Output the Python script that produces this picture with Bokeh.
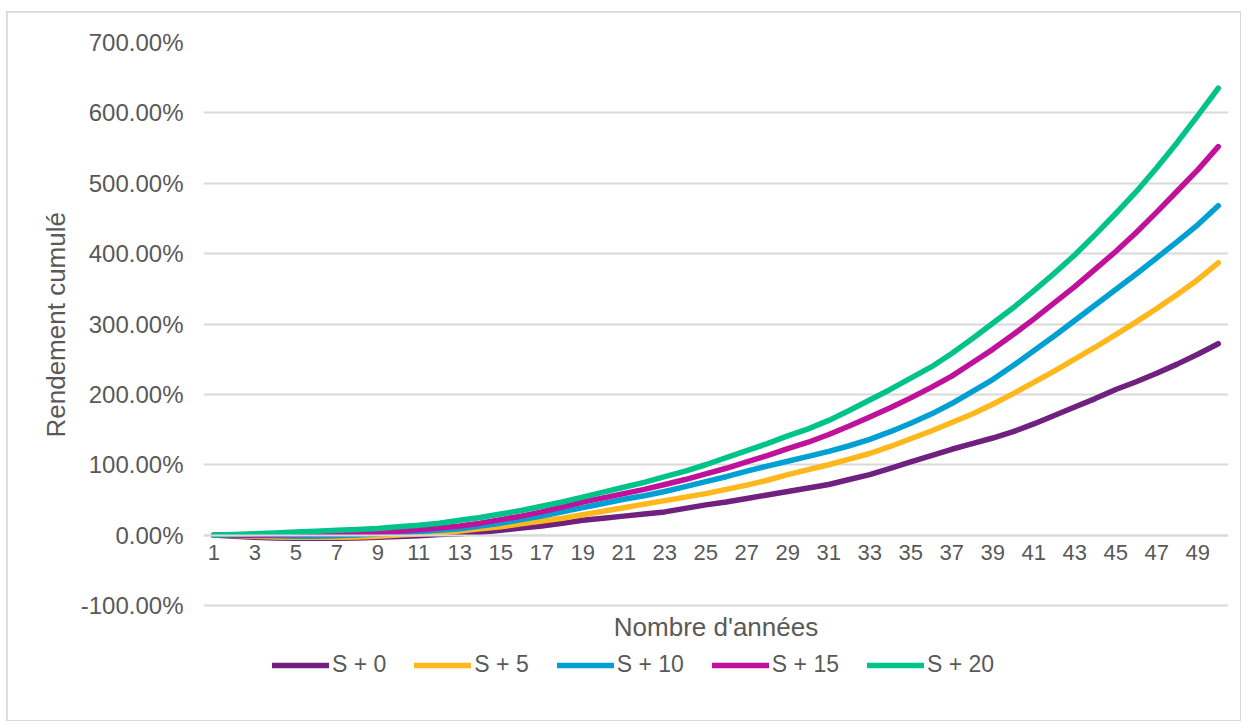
from bokeh.plotting import figure
from bokeh.models import Legend, LegendItem, FixedTicker, PrintfTickFormatter, Title, Label
from bokeh.embed import file_html
from bokeh.resources import INLINE

years = list(range(1, 51))
tick_years = list(range(1, 50, 2))
y_ticks = [-100, 0, 100, 200, 300, 400, 500, 600, 700]

s_plus_0 = [0, -1.5, -3, -4, -4.5, -4.5, -4.5, -4, -3, -2,
            -1, 1, 2, 4, 7, 10, 13, 17, 21, 24,
            27, 30, 33, 38, 43, 47, 52, 57, 62, 67,
            72, 79, 86, 95, 104, 113, 122, 130, 138, 147,
            158, 170, 182, 194, 207, 218, 230, 243, 257, 272]
s_plus_5 = [0, -0.5, -1.5, -2.5, -3, -3, -3, -2.5, -1.5, 0,
            1.5, 3.5, 6, 9, 12, 16, 20, 24, 29, 34,
            39, 44, 49, 54, 59, 65, 71, 78, 86, 93,
            100, 108, 116, 126, 137, 148, 160, 172, 186, 201,
            217, 233, 250, 267, 285, 303, 322, 342, 363, 387]
s_plus_10 = [0, 0, -0.5, -1, -1.5, -1.5, -1, 0, 1.5, 3,
             5, 7, 9, 13, 17, 22, 27, 33, 39, 45,
             51, 56, 62, 69, 76, 83, 91, 98, 105, 112,
             119, 127, 136, 147, 159, 172, 187, 204, 221, 241,
             262, 283, 305, 327, 349, 371, 394, 417, 441, 468]
s_plus_15 = [0, 0, 0, 0.5, 1, 1.5, 2, 3, 4, 5.5,
             7.5, 10, 13, 17, 22, 27, 33, 40, 47, 53,
             59, 65, 72, 79, 87, 95, 104, 113, 123, 132,
             143, 155, 168, 181, 195, 210, 226, 245, 264, 285,
             307, 330, 353, 378, 403, 430, 459, 489, 519, 552]
s_plus_20 = [0, 1, 2, 3, 4.5, 5.5, 7, 8, 9.5, 12,
             14, 17, 21, 25, 30, 35, 41, 47, 54, 61,
             68, 75, 83, 91, 100, 110, 120, 130, 141, 151,
             163, 177, 192, 207, 223, 239, 258, 279, 301, 323,
             347, 372, 398, 427, 457, 488, 522, 558, 596, 635]

series_names = ["S + 0", "S + 5", "S + 10", "S + 15", "S + 20"]
series_values = [s_plus_0, s_plus_5, s_plus_10, s_plus_15, s_plus_20]
series_colors = ["#70207E", "#FFB81C", "#00A0D2", "#C0119B", "#00C389"]

FONT = "Liberation Sans"
TXT = "#595959"
GRID = "#d9d9d9"

# layout (pixels, figure coordinates)
W, H = 1233, 708
BORDER_L, BORDER_R, BORDER_T, BORDER_B = 196, 12, 30, 2
GRID_SPAN_PX = 563.0          # height from the -100% line to the 700% line
Y_TOP, Y_GRID_BOTTOM = 700, -100
px_per_unit = GRID_SPAN_PX / (Y_TOP - Y_GRID_BOTTOM)
frame_h = H - BORDER_T - BORDER_B
y_start = Y_TOP - frame_h / px_per_unit   # frame extends below the -100% line

p = figure(width=W, height=H, x_range=(0.5, 50.5), y_range=(y_start, Y_TOP),
           output_backend="svg", toolbar_location=None,
           min_border_left=BORDER_L, min_border_right=BORDER_R,
           min_border_top=BORDER_T, min_border_bottom=BORDER_B)
p.outline_line_color = None
p.background_fill_color = "white"
p.border_fill_color = "white"
p.styles = {"margin-left": "7px", "margin-top": "12px",
            "outline": "2px solid #d9d9d9", "outline-offset": "-1px"}

renderers = []
for vals, col in zip(series_values, series_colors):
    r = p.line(years, vals, line_color=col, line_width=5.5,
               line_cap="round", line_join="round")
    renderers.append(r)

# category axis crossing at 0
xa = p.xaxis[0]
xa.fixed_location = 0
xa.ticker = FixedTicker(ticks=tick_years)
xa.axis_line_color = GRID
xa.axis_line_width = 2
xa.major_tick_line_color = None
xa.minor_tick_line_color = None
xa.major_tick_out = 0
xa.major_label_standoff = 10
xa.major_label_text_font = FONT
xa.major_label_text_font_size = "22px"
xa.major_label_text_color = TXT

# x axis title, below the -100% line
p.add_layout(Label(x=25.5, y=-(92 / px_per_unit), text="Nombre d'années",
                   text_align="center", text_baseline="middle",
                   text_font=FONT, text_font_size="26px", text_color=TXT))

ya = p.yaxis[0]
ya.ticker = FixedTicker(ticks=y_ticks)
ya.formatter = PrintfTickFormatter(format="%.2f%%")
ya.axis_line_color = None
ya.major_tick_line_color = None
ya.minor_tick_line_color = None
ya.major_tick_out = 0
ya.major_label_standoff = 20
ya.major_label_text_font = FONT
ya.major_label_text_font_size = "24px"
ya.major_label_text_color = TXT

# y axis title, centred on the gridded area
p.add_layout(Title(text="Rendement cumulé", align="left", offset=281,
                   standoff=14, text_font=FONT, text_font_size="26px",
                   text_font_style="normal", text_color=TXT), "left")

p.xgrid.visible = False
p.ygrid.ticker = FixedTicker(ticks=y_ticks)
p.ygrid.grid_line_color = GRID
p.ygrid.grid_line_width = 2

legend = Legend(
    items=[LegendItem(label=n, renderers=[r]) for n, r in zip(series_names, renderers)],
    orientation="horizontal", location=(69, 40),
    glyph_width=57, glyph_height=26, label_height=26, label_standoff=3, spacing=28,
    padding=0, margin=0, border_line_color=None, background_fill_alpha=0,
    label_text_font=FONT, label_text_font_size="23px", label_text_color=TXT,
)
p.add_layout(legend)

open("out.html", "w").write(file_html(p, INLINE))
